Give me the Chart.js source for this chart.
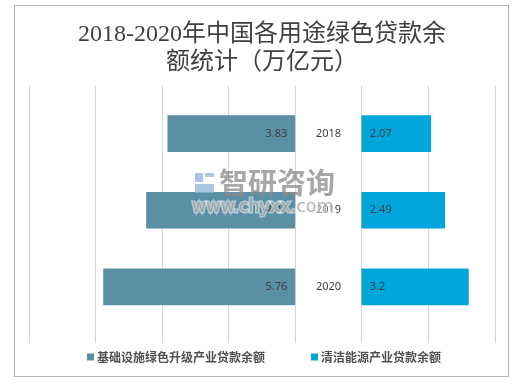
<!DOCTYPE html>
<html>
<head>
<meta charset="utf-8">
<script src="https://cdn.jsdelivr.net/npm/chart.js@4/dist/chart.umd.min.js"></script>
<style>
  html, body { margin: 0; padding: 0; background: #fff; }
  #wrap { position: relative; width: 523px; height: 385px; }
  #frame { position: absolute; left: 14px; top: 5px; width: 495px; height: 372px; border: 1px solid #b4b4b4; box-sizing: border-box; }
  #chart { position: absolute; left: 0; top: 0; }
</style>
</head>
<body>
<div id="wrap">
  <div id="frame"></div>
  <canvas id="chart" width="523" height="385"></canvas>
</div>
<script>
const years = ['2018', '2019', '2020'];
const infraValues = [3.83, 4.47, 5.76];
const cleanValues = [2.07, 2.49, 3.2];
const seriesNames = ['基础设施绿色升级产业贷款余额', '清洁能源产业贷款余额'];
const titleLines = ['2018-2020年中国各用途绿色贷款余', '额统计（万亿元）'];
const GAP = 2; // 中间留给年份标签的空白

const colors = ['#5b8fa6', '#00a5dc'];

// 标签 + 图例 + 水印
const labelPlugin = {
    id: 'labels',
    afterDatasetsDraw(chart) {
        const ctx = chart.ctx;
        const xs = chart.scales.x;
        const ys = chart.scales.y;
        ctx.save();
        ctx.font = '11px "Noto Sans", "Noto Sans CJK SC"';
        ctx.fillStyle = '#404040';
        ctx.textBaseline = 'middle';
        years.forEach((yr, i) => {
            const y = ys.getPixelForValue(i);
            ctx.textAlign = 'right';
            ctx.fillText(String(infraValues[i]), xs.getPixelForValue(0) - 8, y);
            ctx.textAlign = 'center';
            ctx.fillText(yr, xs.getPixelForValue(GAP / 2), y);
            ctx.textAlign = 'left';
            ctx.fillText(String(cleanValues[i]), xs.getPixelForValue(GAP) + 8, y);
        });

        // 水印
        ctx.globalAlpha = 0.75;
        ctx.fillStyle = '#8fb3d9';
        ctx.fillRect(195, 173, 8, 9);
        ctx.fillRect(205, 173, 9, 4);
        ctx.fillRect(195, 184, 19, 9);
        ctx.fillStyle = '#8a8a8a';
        ctx.textAlign = 'left';
        ctx.font = 'bold 29px "Noto Sans CJK SC"';
        ctx.fillText('智研咨询', 219, 183);
        ctx.font = '17.5px "DejaVu Sans", "Noto Sans"';
        ctx.lineWidth = 3;
        ctx.strokeStyle = 'rgba(255,255,255,0.7)';
        ctx.strokeText('www.chyxx.com', 192, 207);
        ctx.fillStyle = '#9a9a9a';
        ctx.fillText('www.chyxx.com', 192, 207);
        ctx.globalAlpha = 1;

        // 图例
        ctx.font = 'bold 12px "Noto Sans CJK SC"';
        ctx.textAlign = 'left';
        let lx = 87;
        const ly = 357;
        seriesNames.forEach((name, i) => {
            ctx.fillStyle = colors[i];
            ctx.fillRect(lx, ly - 3.5, 7, 7);
            ctx.fillStyle = '#505050';
            ctx.fillText(name, lx + 10, ly);
            lx += 10 + ctx.measureText(name).width + 46;
        });
        ctx.restore();
    }
};

const ctx = document.getElementById('chart').getContext('2d');
new Chart(ctx, {
    type: 'bar',
    data: {
        datasets: [{
            label: seriesNames[0],
            data: years.map((y, i) => ({ x: [-infraValues[i], 0], y: i })),
            backgroundColor: colors[0],
            barThickness: 36,
            grouped: false
        }, {
            label: seriesNames[1],
            data: years.map((y, i) => ({ x: [GAP, GAP + cleanValues[i]], y: i })),
            backgroundColor: colors[1],
            barThickness: 36,
            grouped: false
        }]
    },
    options: {
        responsive: false,
        animation: false,
        indexAxis: 'y',
        layout: { padding: { top: 21, left: 29, right: 28, bottom: 42 } },
        plugins: {
            legend: { display: false },
            tooltip: { enabled: false },
            title: {
                display: true,
                text: titleLines,
                color: '#404040',
                font: { family: '"Liberation Serif", "Noto Sans CJK SC"', size: 24, weight: 'normal', lineHeight: 1.15 },
                padding: { top: 0, bottom: 9 }
            }
        },
        scales: {
            x: {
                type: 'linear',
                min: -8,
                max: 6,
                ticks: { stepSize: 2, display: false },
                grid: { color: '#d6d6d6', drawTicks: false },
                border: { display: false }
            },
            y: {
                type: 'linear',
                reverse: true,
                min: -0.391,
                max: 2.492,
                display: false
            }
        }
    },
    plugins: [labelPlugin]
});
</script>
</body>
</html>
